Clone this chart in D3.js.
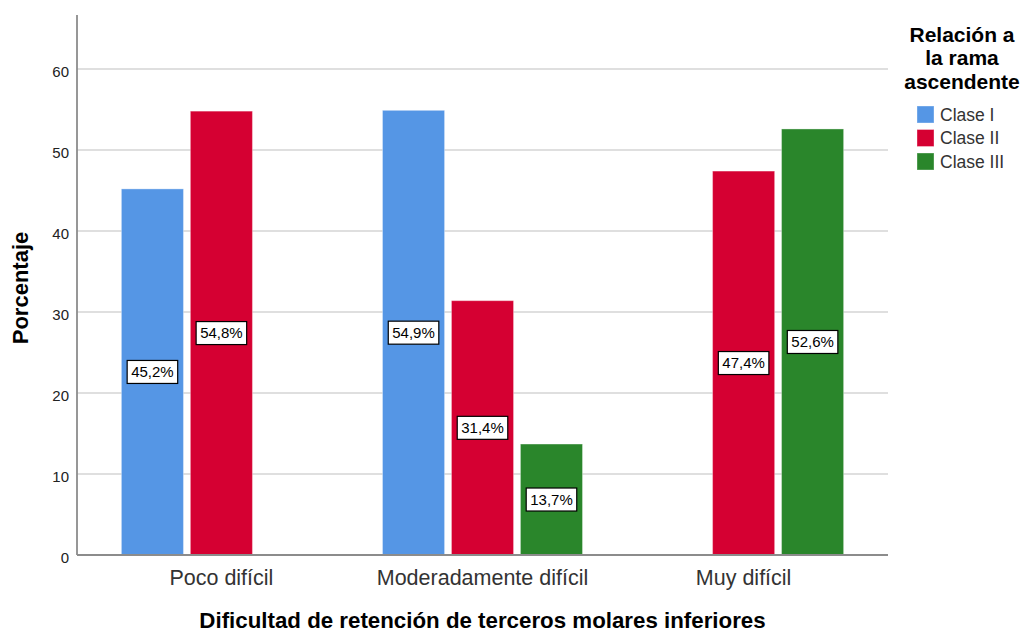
<!DOCTYPE html>
<html>
<head>
<meta charset="utf-8">
<script src="https://cdn.jsdelivr.net/npm/d3@7"></script>
<style>
  html, body { margin: 0; padding: 0; background: #fff; }
  svg { display: block; font-family: "Liberation Sans", Arial, sans-serif; }
</style>
</head>
<body>
<svg id="chart" width="1027" height="633"></svg>
<script>
// Categories on the x axis and the legend series
const categories = ["Poco difícil", "Moderadamente difícil", "Muy difícil"];
const seriesNames = ["Clase I", "Clase II", "Clase III"];
const seriesColors = ["#5596e5", "#d50032", "#2a862b"];

// Percentages per series, in the order of the categories (null = no bar)
const claseI   = [45.2, 54.9, null];
const claseII  = [54.8, 31.4, 47.4];
const claseIII = [null, 13.7, 52.6];

const yTicks = [0, 10, 20, 30, 40, 50, 60];
const yMax = 66.67;

const legendTitle = ["Relación a", "la rama", "ascendente"];
const xTitle = "Dificultad de retención de terceros molares inferiores";
const yTitle = "Porcentaje";

const seriesValues = [claseI, claseII, claseIII];
const rows = [];
seriesValues.forEach((vals, si) => {
  vals.forEach((v, ci) => {
    if (v !== null) rows.push({ cat: categories[ci], series: seriesNames[si], value: v });
  });
});

const svg = d3.select("#chart");
const plot = { left: 77, right: 888, top: 15, bottom: 555 };

const x0 = d3.scaleBand().domain(categories).range([plot.left, plot.right])
  .paddingInner(0.234).paddingOuter(0.17);
const x1 = d3.scaleBand().domain(seriesNames).range([0, x0.bandwidth()])
  .paddingInner(0.1).paddingOuter(0);
const y = d3.scaleLinear().domain([0, yMax]).range([plot.bottom, plot.top]);
const color = d3.scaleOrdinal().domain(seriesNames).range(seriesColors);

// Horizontal gridlines
svg.append("g").selectAll("line")
  .data(yTicks.filter(t => t > 0))
  .join("line")
  .attr("x1", plot.left).attr("x2", plot.right)
  .attr("y1", d => y(d)).attr("y2", d => y(d))
  .attr("stroke", "#d4d4d4").attr("stroke-width", 1.5);

// Bars
svg.append("g").selectAll("rect")
  .data(rows)
  .join("rect")
  .attr("x", d => x0(d.cat) + x1(d.series))
  .attr("y", d => y(d.value))
  .attr("width", x1.bandwidth())
  .attr("height", d => y(0) - y(d.value))
  .attr("fill", d => color(d.series))
  .attr("stroke", "rgba(255,255,255,0.35)")
  .attr("stroke-width", 1);

// Y axis
const yAxis = svg.append("g")
  .attr("transform", `translate(${plot.left},0)`)
  .call(d3.axisLeft(y).tickValues(yTicks).tickSize(0).tickPadding(8).tickFormat(d3.format("d")));
yAxis.select(".domain").remove();
yAxis.selectAll("text")
  .attr("font-size", 15).attr("fill", "#222")
  .attr("font-family", "Liberation Sans, Arial, sans-serif")
  .attr("dy", "0.5em");
svg.append("line")
  .attr("x1", plot.left).attr("x2", plot.left).attr("y1", plot.top).attr("y2", plot.bottom)
  .attr("stroke", "#8c8c8c").attr("stroke-width", 1.8);

// X axis
const xAxis = svg.append("g")
  .attr("transform", `translate(0,${plot.bottom})`)
  .call(d3.axisBottom(x0).tickSize(0).tickPadding(14));
xAxis.select(".domain").remove();
xAxis.selectAll("text")
  .attr("font-size", 21.5).attr("fill", "#333")
  .attr("font-family", "Liberation Sans, Arial, sans-serif")
  .attr("dy", "0.71em")
  .attr("y", 15);
svg.append("line")
  .attr("x1", plot.left).attr("x2", plot.right).attr("y1", plot.bottom).attr("y2", plot.bottom)
  .attr("stroke", "#8c8c8c").attr("stroke-width", 1.8);

// Value labels in boxes at mid-height of each bar
const labels = svg.append("g").selectAll("g")
  .data(rows)
  .join("g")
  .attr("transform", d => `translate(${x0(d.cat) + x1(d.series) + x1.bandwidth() / 2},${y(d.value / 2)})`);
labels.append("text")
  .attr("text-anchor", "middle")
  .attr("dy", "0.36em")
  .attr("font-size", 15)
  .attr("fill", "#000")
  .text(d => d3.format(".1f")(d.value).replace(".", ",") + "%");
labels.each(function () {
  const g = d3.select(this);
  const bb = g.select("text").node().getBBox();
  g.insert("rect", "text")
    .attr("x", bb.x - 4).attr("y", -11.5)
    .attr("width", bb.width + 8).attr("height", 23)
    .attr("fill", "#fff").attr("stroke", "#000").attr("stroke-width", 1.2);
});

// Axis titles
svg.append("text")
  .attr("x", (plot.left + plot.right) / 2).attr("y", 628)
  .attr("text-anchor", "middle")
  .attr("font-size", 22.3).attr("font-weight", "bold").attr("fill", "#000")
  .text(xTitle);
svg.append("text")
  .attr("transform", `translate(28,${(plot.top + plot.bottom) / 2 + 3}) rotate(-90)`)
  .attr("text-anchor", "middle")
  .attr("font-size", 22).attr("font-weight", "bold").attr("fill", "#000")
  .text(yTitle);

// Legend: wrapped title lines, then swatches
const legend = svg.append("g");
legend.selectAll("text.title")
  .data(legendTitle)
  .join("text")
  .attr("class", "title")
  .attr("x", 962).attr("y", (d, i) => 41.5 + i * 23.5)
  .attr("text-anchor", "middle")
  .attr("font-size", 21).attr("font-weight", "bold").attr("fill", "#000")
  .text(d => d);
const items = legend.selectAll("g.item")
  .data(seriesNames)
  .join("g")
  .attr("class", "item")
  .attr("transform", (d, i) => `translate(917,${106 + i * 23.5})`);
items.append("rect")
  .attr("width", 17).attr("height", 17)
  .attr("fill", d => color(d))
  .attr("stroke", "rgba(255,255,255,0.35)");
items.append("text")
  .attr("x", 23).attr("y", 8.5).attr("dy", "0.36em")
  .attr("font-size", 17.5).attr("fill", "#333")
  .text(d => d);
</script>
</body>
</html>
